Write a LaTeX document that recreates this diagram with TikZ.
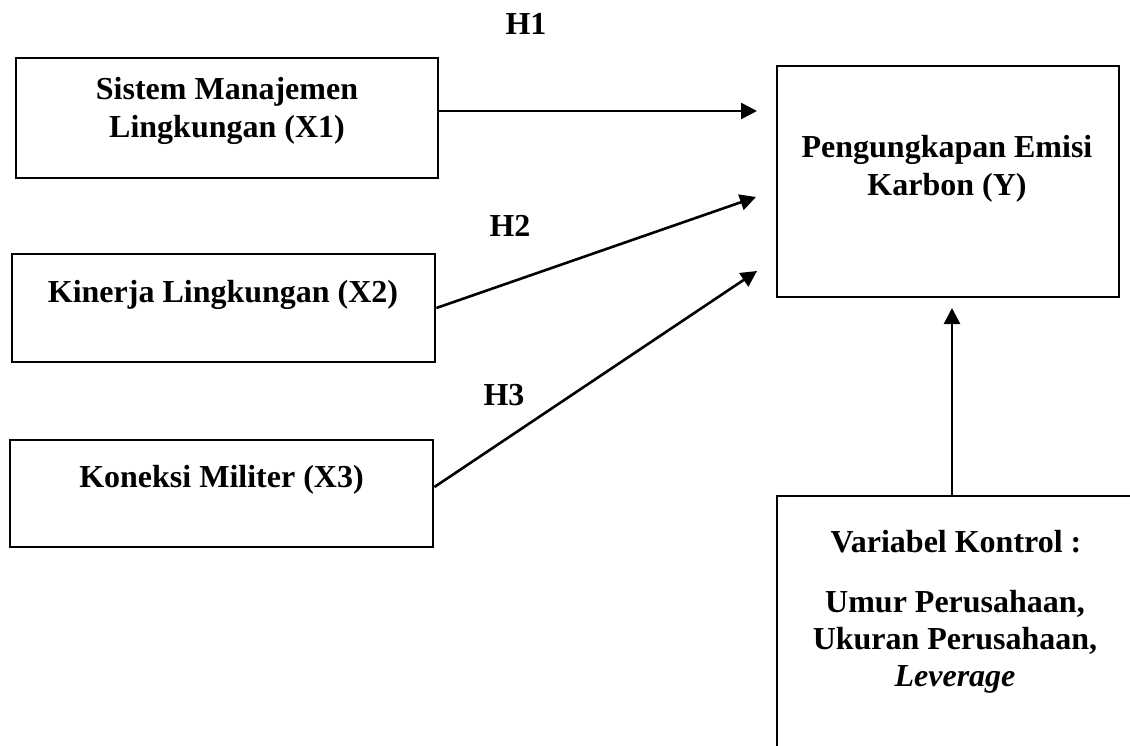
\documentclass[tikz,border=0pt]{standalone}
\usepackage{fontspec}
\setmainfont{Liberation Serif}
\usetikzlibrary{arrows.meta}
\begin{document}
\begin{tikzpicture}[x=0.5pt,y=-0.5pt,
  box/.style={draw,line width=1.4pt,inner sep=0pt,rectangle},
  lbl/.style={font=\fontsize{16}{19}\selectfont\bfseries,align=center,inner sep=0pt},
  arr/.style={line width=1.3pt,-{Triangle[length=8pt,width=8pt]}}]
\useasboundingbox (0,0) rectangle (1130,745);
\clip (0,0) rectangle (1130,745);
% boxes
\node[box,minimum width=211pt,minimum height=60pt] (x1) at (227,118) {};
\node[box,minimum width=211.5pt,minimum height=54pt] (x2) at (223.5,308) {};
\node[box,minimum width=211.5pt,minimum height=53.5pt] (x3) at (221.5,493.5) {};
\node[box,minimum width=171pt,minimum height=115.5pt] (y) at (948,181.5) {};
\node[box,minimum width=191.5pt,minimum height=142pt] (ctrl) at (968.5,638) {};
% texts
\node[lbl] (t1) at (227,111) {Sistem Manajemen\\Lingkungan (X1)};
\node[lbl] (t2) at (223,295) {Kinerja Lingkungan (X2)};
\node[lbl] (t3) at (221.5,480) {Koneksi Militer (X3)};
\node[lbl] (ty) at (947,168.5) {Pengungkapan Emisi\\Karbon (Y)};
\node[lbl] (tc1) at (956,542) {Variabel Kontrol :};
\node[lbl,font=\fontsize{16}{18.5}\selectfont\bfseries] (tc2) at (955,642) {Umur Perusahaan,\\Ukuran Perusahaan,\\\textit{Leverage}};
% hypothesis labels
\node[lbl] (h1) at (526,24) {H1};
\node[lbl] (h2) at (510,226) {H2};
\node[lbl] (h3) at (504,395) {H3};
% arrow end points
\coordinate (e1) at (757,111);
\coordinate (e2) at (756,197);
\coordinate (e3) at (757,271);
\coordinate (e4) at (952,308);
\coordinate (s4) at (952,496);
% connectors
\draw[arr] ([yshift=3.5pt]x1.east) -- (e1);
\draw[arr] (x2.east) -- (e2);
\draw[arr] ([yshift=3.25pt]x3.east) -- (e3);
\draw[arr] (s4) -- (e4);
\end{tikzpicture}
\end{document}
